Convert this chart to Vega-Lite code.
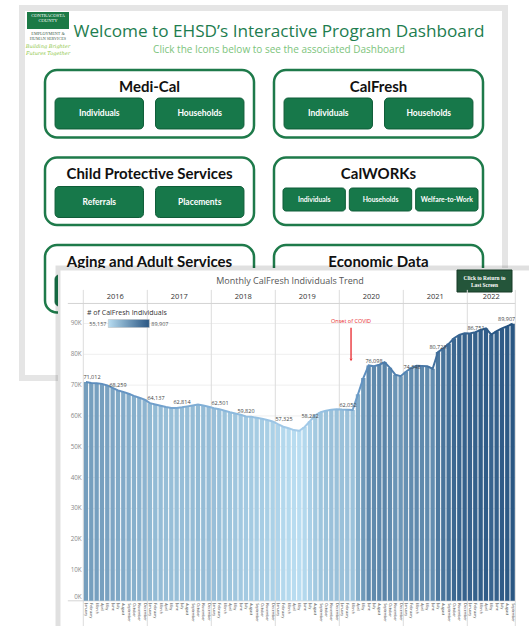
{
  "$schema": "https://vega.github.io/schema/vega-lite/v6.json",
  "width": 529,
  "height": 626,
  "autosize": {"type": "none"},
  "padding": 0,
  "background": "#ffffff",
  "config": {"view": {"stroke": null}, "text": {"font": "Open Sans"}},
  "datasets": {
    "calfresh": [
      {"month": "2016-01", "v": 71012}, {"month": "2016-02", "v": 70700}, {"month": "2016-03", "v": 70600},
      {"month": "2016-04", "v": 70400}, {"month": "2016-05", "v": 69900}, {"month": "2016-06", "v": 69100},
      {"month": "2016-07", "v": 68259}, {"month": "2016-08", "v": 67800}, {"month": "2016-09", "v": 67200},
      {"month": "2016-10", "v": 66500}, {"month": "2016-11", "v": 65900}, {"month": "2016-12", "v": 65300},
      {"month": "2017-01", "v": 64137}, {"month": "2017-02", "v": 63700}, {"month": "2017-03", "v": 63300},
      {"month": "2017-04", "v": 62900}, {"month": "2017-05", "v": 62600}, {"month": "2017-06", "v": 62600},
      {"month": "2017-07", "v": 62814}, {"month": "2017-08", "v": 63100}, {"month": "2017-09", "v": 63400},
      {"month": "2017-10", "v": 63700}, {"month": "2017-11", "v": 63400}, {"month": "2017-12", "v": 63000},
      {"month": "2018-01", "v": 62501}, {"month": "2018-02", "v": 62200}, {"month": "2018-03", "v": 61700},
      {"month": "2018-04", "v": 61200}, {"month": "2018-05", "v": 60800}, {"month": "2018-06", "v": 60400},
      {"month": "2018-07", "v": 59820}, {"month": "2018-08", "v": 59700}, {"month": "2018-09", "v": 59400},
      {"month": "2018-10", "v": 59100}, {"month": "2018-11", "v": 58700}, {"month": "2018-12", "v": 58200},
      {"month": "2019-01", "v": 57325}, {"month": "2019-02", "v": 56500}, {"month": "2019-03", "v": 56000},
      {"month": "2019-04", "v": 55400}, {"month": "2019-05", "v": 55157}, {"month": "2019-06", "v": 56400},
      {"month": "2019-07", "v": 58282}, {"month": "2019-08", "v": 60200}, {"month": "2019-09", "v": 61200},
      {"month": "2019-10", "v": 61700}, {"month": "2019-11", "v": 62000}, {"month": "2019-12", "v": 62200},
      {"month": "2020-01", "v": 62052}, {"month": "2020-02", "v": 62000}, {"month": "2020-03", "v": 61900},
      {"month": "2020-04", "v": 67000}, {"month": "2020-05", "v": 72300}, {"month": "2020-06", "v": 76400},
      {"month": "2020-07", "v": 76098}, {"month": "2020-08", "v": 76600}, {"month": "2020-09", "v": 77400},
      {"month": "2020-10", "v": 75600}, {"month": "2020-11", "v": 73400}, {"month": "2020-12", "v": 72900},
      {"month": "2021-01", "v": 74348}, {"month": "2021-02", "v": 75600}, {"month": "2021-03", "v": 76300},
      {"month": "2021-04", "v": 76200}, {"month": "2021-05", "v": 76100}, {"month": "2021-06", "v": 75300},
      {"month": "2021-07", "v": 80728}, {"month": "2021-08", "v": 81900}, {"month": "2021-09", "v": 83400},
      {"month": "2021-10", "v": 85200}, {"month": "2021-11", "v": 86300}, {"month": "2021-12", "v": 86800},
      {"month": "2022-01", "v": 86751}, {"month": "2022-02", "v": 87200}, {"month": "2022-03", "v": 87900},
      {"month": "2022-04", "v": 88400}, {"month": "2022-05", "v": 86400}, {"month": "2022-06", "v": 87500},
      {"month": "2022-07", "v": 88400}, {"month": "2022-08", "v": 89100}, {"month": "2022-09", "v": 89907}
    ],
    "sections": [
      {"section": "Medi-Cal", "col": "L", "row": "1"},
      {"section": "CalFresh", "col": "R", "row": "1"},
      {"section": "Child Protective Services", "col": "L", "row": "2"},
      {"section": "CalWORKs", "col": "R", "row": "2"},
      {"section": "Aging and Adult Services", "col": "L", "row": "3"},
      {"section": "Economic Data", "col": "R", "row": "3"}
    ],
    "buttons2": [
      {"col": "L", "row": "1", "slot": "1", "label": "Individuals"},
      {"col": "L", "row": "1", "slot": "2", "label": "Households"},
      {"col": "R", "row": "1", "slot": "1", "label": "Individuals"},
      {"col": "R", "row": "1", "slot": "2", "label": "Households"},
      {"col": "L", "row": "2", "slot": "1", "label": "Referrals"},
      {"col": "L", "row": "2", "slot": "2", "label": "Placements"},
      {"col": "L", "row": "3", "slot": "1", "label": ""},
      {"col": "L", "row": "3", "slot": "2", "label": ""}
    ],
    "buttons3": [
      {"box": "CalWORKs", "slot": "1", "label": "Individuals"},
      {"box": "CalWORKs", "slot": "2", "label": "Households"},
      {"box": "CalWORKs", "slot": "3", "label": "Welfare-to-Work"}
    ],
    "years": [
      {"year": "2016", "mid": 6}, {"year": "2017", "mid": 18}, {"year": "2018", "mid": 30},
      {"year": "2019", "mid": 42}, {"year": "2020", "mid": 54}, {"year": "2021", "mid": 66},
      {"year": "2022", "mid": 76.5}
    ],
    "yearEdges": [{"i": 0}, {"i": 12}, {"i": 24}, {"i": 36}, {"i": 48}, {"i": 60}, {"i": 72}, {"i": 81}],
    "grid": [
      {"g": 0, "lab": "0K"}, {"g": 10000, "lab": "10K"}, {"g": 20000, "lab": "20K"}, {"g": 30000, "lab": "30K"},
      {"g": 40000, "lab": "40K"}, {"g": 50000, "lab": "50K"}, {"g": 60000, "lab": "60K"}, {"g": 70000, "lab": "70K"},
      {"g": 80000, "lab": "80K"}, {"g": 90000, "lab": "90K"}
    ],
    "covid": [{"i": 50.2, "label": "Onset of COVID", "ty": 90700, "a1": 88600, "a2": 78600, "tip": 78200}]
  },
  "layer": [
    {
      "data": {"values": [{"panel": "dashboard"}]},
      "mark": {"type": "rect", "fill": "#ffffff", "stroke": "#000000", "strokeWidth": 6, "strokeOpacity": 0.1},
      "encoding": {
        "x": {"field": "panel", "type": "nominal", "axis": null, "scale": {"range": [22, 505], "paddingInner": 0, "paddingOuter": 0}},
        "y": {"field": "panel", "type": "nominal", "axis": null, "scale": {"range": [8, 378], "paddingInner": 0, "paddingOuter": 0}}
      }
    },
    {
      "data": {"values": [{"panel": "logo"}]},
      "mark": {"type": "rect", "fill": "#1b7a46"},
      "encoding": {
        "x": {"field": "panel", "type": "nominal", "axis": null, "scale": {"range": [27, 69], "paddingInner": 0, "paddingOuter": 0}},
        "y": {"field": "panel", "type": "nominal", "axis": null, "scale": {"range": [12, 29], "paddingInner": 0, "paddingOuter": 0}}
      }
    },
    {
      "data": {"values": [{"k": "logo", "line": "1", "t": "CONTRACOSTA"}, {"k": "logo", "line": "2", "t": "COUNTY"}]},
      "mark": {"type": "text", "font": "Liberation Serif", "fontSize": 4.6, "fill": "#ffffff"},
      "encoding": {
        "x": {"field": "k", "type": "nominal", "axis": null, "scale": {"range": [27, 69]}},
        "y": {"field": "line", "type": "ordinal", "axis": null, "scale": {"type": "point", "range": [16, 21], "padding": 0}},
        "text": {"field": "t"}
      }
    },
    {
      "data": {"values": [{"k": "logo", "line": "1", "t": "EMPLOYMENT &"}, {"k": "logo", "line": "2", "t": "HUMAN SERVICES"}]},
      "mark": {"type": "text", "font": "Liberation Serif", "fontSize": 4.2, "fill": "#3d5e4b"},
      "encoding": {
        "x": {"field": "k", "type": "nominal", "axis": null, "scale": {"range": [27, 69]}},
        "y": {"field": "line", "type": "ordinal", "axis": null, "scale": {"type": "point", "range": [34, 38.5], "padding": 0}},
        "text": {"field": "t"}
      }
    },
    {
      "data": {"values": [{"k": "logo", "line": "1", "t": "Building Brighter"}, {"k": "logo", "line": "2", "t": "Futures Together"}]},
      "mark": {"type": "text", "font": "DejaVu Serif", "fontStyle": "italic", "fontSize": 5, "fill": "#8cc63f"},
      "encoding": {
        "x": {"field": "k", "type": "nominal", "axis": null, "scale": {"range": [27, 69]}},
        "y": {"field": "line", "type": "ordinal", "axis": null, "scale": {"type": "point", "range": [46, 53], "padding": 0}},
        "text": {"field": "t"}
      }
    },
    {
      "data": {"values": [{"k": "title", "t": "Welcome to EHSD’s Interactive Program Dashboard"}]},
      "mark": {"type": "text", "font": "Open Sans", "fontSize": 17.2, "fill": "#1e7d4f", "baseline": "middle"},
      "encoding": {
        "x": {"field": "k", "type": "nominal", "axis": null, "scale": {"range": [75, 483]}},
        "y": {"field": "k", "type": "nominal", "axis": null, "scale": {"range": [22, 42]}},
        "text": {"field": "t"}
      }
    },
    {
      "data": {"values": [{"k": "sub", "t": "Click the Icons below to see the associated Dashboard"}]},
      "mark": {"type": "text", "font": "Open Sans", "fontSize": 10, "fill": "#7cc47c", "baseline": "middle"},
      "encoding": {
        "x": {"field": "k", "type": "nominal", "axis": null, "scale": {"range": [75, 483]}},
        "y": {"field": "k", "type": "nominal", "axis": null, "scale": {"range": [44, 56]}},
        "text": {"field": "t"}
      }
    },
    {
      "data": {"name": "sections"},
      "layer": [
        {
          "mark": {"type": "rect", "fill": "#ffffff", "stroke": "#1e7a4a", "strokeWidth": 2.5, "cornerRadius": 12},
          "encoding": {
            "x": {"field": "col", "type": "nominal", "axis": null, "scale": {"range": [45, 483], "paddingInner": 0.0873, "paddingOuter": 0}},
            "y": {"field": "row", "type": "nominal", "axis": null, "scale": {"range": [70, 312.5], "paddingInner": 0.229, "paddingOuter": 0}}
          }
        },
        {
          "mark": {"type": "text", "font": "Lato", "fontWeight": "bold", "fontSize": 15, "fill": "#111111", "baseline": "middle"},
          "encoding": {
            "x": {"field": "col", "type": "nominal", "axis": null},
            "y": {"field": "row", "type": "nominal", "axis": null, "bandPosition": 0.25},
            "text": {"field": "section"}
          }
        }
      ]
    },
    {
      "data": {"name": "buttons2"},
      "layer": [
        {
          "mark": {"type": "rect", "fill": "#17784a", "stroke": "#0f5d38", "strokeWidth": 1, "cornerRadius": 4},
          "encoding": {
            "x": {"field": "col", "type": "nominal", "axis": null, "scale": {"range": [45, 483], "paddingInner": 0.0873, "paddingOuter": 0}},
            "xOffset": {"field": "slot", "type": "nominal", "scale": {"paddingInner": 0.12, "paddingOuter": 0.1}},
            "y": {"field": "row", "type": "nominal", "axis": null, "scale": {"range": [98, 306], "paddingInner": 0.65, "paddingOuter": 0}}
          }
        },
        {
          "mark": {"type": "text", "font": "Lato", "fontWeight": "bold", "fontSize": 8.5, "fill": "#ffffff", "baseline": "middle"},
          "encoding": {
            "x": {"field": "col", "type": "nominal", "axis": null},
            "xOffset": {"field": "slot", "type": "nominal"},
            "y": {"field": "row", "type": "nominal", "axis": null},
            "text": {"field": "label"}
          }
        }
      ]
    },
    {
      "data": {"name": "buttons3"},
      "layer": [
        {
          "mark": {"type": "rect", "fill": "#17784a", "stroke": "#0f5d38", "strokeWidth": 1, "cornerRadius": 3},
          "encoding": {
            "x": {"field": "slot", "type": "nominal", "axis": null, "scale": {"range": [283, 478], "paddingInner": 0.06, "paddingOuter": 0}},
            "y": {"field": "box", "type": "nominal", "axis": null, "scale": {"range": [188, 211], "paddingInner": 0, "paddingOuter": 0}}
          }
        },
        {
          "mark": {"type": "text", "font": "Lato", "fontWeight": "bold", "fontSize": 6.8, "fill": "#ffffff", "baseline": "middle"},
          "encoding": {
            "x": {"field": "slot", "type": "nominal", "axis": null},
            "y": {"field": "box", "type": "nominal", "axis": null},
            "text": {"field": "label"}
          }
        }
      ]
    },
    {
      "data": {"values": [{"panel": "chart"}]},
      "mark": {"type": "rect", "fill": "#ffffff", "stroke": "#000000", "strokeWidth": 5, "strokeOpacity": 0.12},
      "encoding": {
        "x": {"field": "panel", "type": "nominal", "axis": null, "scale": {"range": [58, 580], "paddingInner": 0, "paddingOuter": 0}},
        "y": {"field": "panel", "type": "nominal", "axis": null, "scale": {"range": [268, 700], "paddingInner": 0, "paddingOuter": 0}}
      }
    },
    {
      "data": {"values": [{"k": "ct", "t": "Monthly CalFresh Individuals Trend"}]},
      "mark": {"type": "text", "font": "Open Sans", "fontSize": 9, "fill": "#555555", "baseline": "middle"},
      "encoding": {
        "x": {"field": "k", "type": "nominal", "axis": null, "scale": {"range": [58, 522]}},
        "y": {"field": "k", "type": "nominal", "axis": null, "scale": {"range": [275, 287]}},
        "text": {"field": "t"}
      }
    },
    {
      "data": {"values": [{"panel": "return"}]},
      "mark": {"type": "rect", "fill": "#24553a", "stroke": "#173b27", "strokeWidth": 1},
      "encoding": {
        "x": {"field": "panel", "type": "nominal", "axis": null, "scale": {"range": [457, 512], "paddingInner": 0, "paddingOuter": 0}},
        "y": {"field": "panel", "type": "nominal", "axis": null, "scale": {"range": [270, 292], "paddingInner": 0, "paddingOuter": 0}}
      }
    },
    {
      "data": {"values": [{"k": "r", "line": "1", "t": "Click to Return to"}, {"k": "r", "line": "2", "t": "Last Screen"}]},
      "mark": {"type": "text", "font": "Liberation Serif", "fontWeight": "bold", "fontSize": 5.4, "fill": "#ffffff", "baseline": "middle"},
      "encoding": {
        "x": {"field": "k", "type": "nominal", "axis": null, "scale": {"range": [457, 512]}},
        "y": {"field": "line", "type": "ordinal", "axis": null, "scale": {"type": "point", "range": [277.5, 285], "padding": 0}},
        "text": {"field": "t"}
      }
    },
    {
      "layer": [
        {
          "layer": [
            {
              "data": {"name": "grid"},
              "transform": [{"filter": "datum.g > 0"}],
              "mark": {"type": "rule", "stroke": "#efefef", "strokeWidth": 1},
              "encoding": {
                "x": {"datum": 0, "type": "quantitative", "axis": null, "scale": {"domain": [0, 81], "range": [83.3, 515.3], "nice": false, "zero": false}},
                "x2": {"datum": 81},
                "y": {"field": "g", "type": "quantitative", "axis": null, "scale": {"domain": [0, 96000], "range": [600.8, 305], "nice": false, "zero": false}}
              }
            },
            {
              "data": {"name": "grid"},
              "transform": [{"filter": "datum.g > 0"}],
              "mark": {"type": "text", "font": "Open Sans", "fontSize": 6.3, "fill": "#8a8a8a", "align": "right", "baseline": "middle"},
              "encoding": {
                "x": {"datum": -0.3, "type": "quantitative", "axis": null, "scale": {"domain": [0, 81], "range": [83.3, 515.3], "nice": false, "zero": false}},
                "y": {"field": "g", "type": "quantitative", "axis": null, "scale": {"domain": [0, 96000], "range": [600.8, 305], "nice": false, "zero": false}},
                "text": {"field": "lab"}
              }
            },
            {
              "data": {"name": "grid"},
              "transform": [{"filter": "datum.g == 0"}],
              "mark": {"type": "text", "font": "Open Sans", "fontSize": 6.3, "fill": "#8a8a8a", "align": "right", "baseline": "bottom", "dy": -1},
              "encoding": {
                "x": {"datum": -0.3, "type": "quantitative", "axis": null, "scale": {"domain": [0, 81], "range": [83.3, 515.3], "nice": false, "zero": false}},
                "y": {"field": "g", "type": "quantitative", "axis": null, "scale": {"domain": [0, 96000], "range": [600.8, 305], "nice": false, "zero": false}},
                "text": {"field": "lab"}
              }
            },
            {
              "data": {"name": "yearEdges"},
              "mark": {"type": "rule", "stroke": "#dcdcdc", "strokeWidth": 1},
              "encoding": {
                "x": {"field": "i", "type": "quantitative", "axis": null, "scale": {"domain": [0, 81], "range": [83.3, 515.3], "nice": false, "zero": false}},
                "y": {"datum": 100900, "type": "quantitative", "axis": null, "scale": {"domain": [0, 96000], "range": [600.8, 305], "nice": false, "zero": false}},
                "y2": {"datum": -10000}
              }
            },
            {
              "data": {"values": [{"h": 96500}, {"h": 0}]},
              "mark": {"type": "rule", "stroke": "#d4d4d4", "strokeWidth": 1},
              "encoding": {
                "x": {"datum": -2.9, "type": "quantitative", "axis": null, "scale": {"domain": [0, 81], "range": [83.3, 515.3], "nice": false, "zero": false}},
                "x2": {"datum": 81},
                "y": {"field": "h", "type": "quantitative", "axis": null, "scale": {"domain": [0, 96000], "range": [600.8, 305], "nice": false, "zero": false}}
              }
            },
            {
              "data": {"name": "years"},
              "mark": {"type": "text", "font": "Open Sans", "fontSize": 7.5, "fill": "#333333", "baseline": "middle"},
              "encoding": {
                "x": {"field": "mid", "type": "quantitative", "axis": null, "scale": {"domain": [0, 81], "range": [83.3, 515.3], "nice": false, "zero": false}},
                "y": {"datum": 98500, "type": "quantitative", "axis": null, "scale": {"domain": [0, 96000], "range": [600.8, 305], "nice": false, "zero": false}},
                "text": {"field": "year"}
              }
            },
            {
              "data": {"name": "covid"},
              "mark": {"type": "text", "font": "Open Sans", "fontSize": 5.5, "fill": "#e8262b", "baseline": "middle"},
              "encoding": {
                "x": {"field": "i", "type": "quantitative", "axis": null, "scale": {"domain": [0, 81], "range": [83.3, 515.3], "nice": false, "zero": false}},
                "y": {"field": "ty", "type": "quantitative", "axis": null, "scale": {"domain": [0, 96000], "range": [600.8, 305], "nice": false, "zero": false}},
                "text": {"field": "label"}
              }
            },
            {
              "data": {"name": "covid"},
              "mark": {"type": "rule", "stroke": "#e8262b", "strokeWidth": 1.3},
              "encoding": {
                "x": {"field": "i", "type": "quantitative", "axis": null, "scale": {"domain": [0, 81], "range": [83.3, 515.3], "nice": false, "zero": false}},
                "y": {"field": "a1", "type": "quantitative", "axis": null, "scale": {"domain": [0, 96000], "range": [600.8, 305], "nice": false, "zero": false}},
                "y2": {"field": "a2"}
              }
            },
            {
              "data": {"name": "covid"},
              "mark": {"type": "point", "shape": "triangle-down", "filled": true, "fill": "#e8262b", "size": 9, "opacity": 1},
              "encoding": {
                "x": {"field": "i", "type": "quantitative", "axis": null, "scale": {"domain": [0, 81], "range": [83.3, 515.3], "nice": false, "zero": false}},
                "y": {"field": "tip", "type": "quantitative", "axis": null, "scale": {"domain": [0, 96000], "range": [600.8, 305], "nice": false, "zero": false}}
              }
            }
          ]
        },
        {
          "data": {"name": "calfresh"},
          "layer": [
            {
              "mark": {"type": "bar"},
              "encoding": {
                "x": {
                  "field": "month", "type": "ordinal",
                  "scale": {"range": [83.3, 515.3], "paddingInner": 0.19, "paddingOuter": 0.095},
                  "axis": {
                    "orient": "bottom", "offset": -25.2, "title": null, "domain": false, "ticks": false, "zindex": 2,
                    "labelAngle": 90, "labelFontSize": 3.6, "labelColor": "#444444", "labelPadding": 2,
                    "labelOverlap": false, "labelBound": false, "labelFlush": false, "labelFont": "Open Sans",
                    "labelExpr": "['January','February','March','April','May','June','July','August','September','October','November','December'][toNumber(slice(datum.value,5,7))-1]"
                  }
                },
                "y": {
                  "field": "v", "type": "quantitative",
                  "scale": {"domain": [0, 96000], "range": [600.8, 305], "nice": false, "zero": false},
                  "axis": null
                },
                "color": {
                  "field": "v", "type": "quantitative",
                  "scale": {"domain": [55157, 89907], "range": ["#b9ddf1", "#2a5783"]},
                  "legend": {
                    "orient": "none", "legendX": 87, "legendY": 308.5, "direction": "horizontal",
                    "title": "# of CalFresh Individuals", "titleFont": "Open Sans", "titleFontSize": 7,
                    "titleFontWeight": "normal", "titleColor": "#333333", "titlePadding": 4,
                    "gradientLength": 41, "gradientThickness": 8, "gradientStrokeWidth": 0.5, "gradientStrokeColor": "#bbbbbb",
                    "values": [55157, 89907], "labelExpr": "format(datum.value, ',')",
                    "labelFont": "Open Sans", "labelFontSize": 5.5, "labelColor": "#555555",
                    "labelOverlap": false,
                    "encode": {
                      "gradient": {"update": {"x": {"value": 21.3}}},
                      "labels": {"update": {
                        "x": {"signal": "datum.perc <= 0 ? 19.5 : 64.3"},
                        "align": {"signal": "datum.perc <= 0 ? 'right' : 'left'"},
                        "y": {"value": 4},
                        "baseline": {"value": "middle"}
                      }}
                    }
                  }
                }
              }
            },
            {
              "mark": {
                "type": "line", "strokeWidth": 2,
                "stroke": {
                  "x1": 0, "y1": 0, "x2": 1, "y2": 0, "gradient": "linear",
                  "stops": [
                    {"offset": 0, "color": "#5a8bbb"},
                    {"offset": 0.075, "color": "#6392c1"},
                    {"offset": 0.3, "color": "#85b3d9"},
                    {"offset": 0.5, "color": "#a6cdea"},
                    {"offset": 0.6, "color": "#88b6db"},
                    {"offset": 0.65, "color": "#5f90c0"},
                    {"offset": 0.7, "color": "#4a7aaa"},
                    {"offset": 0.75, "color": "#5485b5"},
                    {"offset": 0.825, "color": "#3f6d9b"},
                    {"offset": 1, "color": "#22507e"}
                  ]
                }
              },
              "encoding": {
                "x": {"field": "month", "type": "ordinal"},
                "y": {"field": "v", "type": "quantitative", "axis": null}
              }
            },
            {
              "transform": [{"filter": "slice(datum.month,5,7) == '01'"}],
              "mark": {"type": "text", "font": "Open Sans", "fontSize": 5.5, "fill": "#444444", "baseline": "bottom", "dy": -2, "dx": 6},
              "encoding": {
                "x": {"field": "month", "type": "ordinal"},
                "y": {"field": "v", "type": "quantitative", "axis": null},
                "text": {"field": "v", "type": "quantitative", "format": ","}
              }
            },
            {
              "transform": [{"filter": "slice(datum.month,5,7) == '07' && datum.month != '2022-07'"}],
              "mark": {"type": "text", "font": "Open Sans", "fontSize": 5.5, "fill": "#444444", "baseline": "bottom", "dy": -2},
              "encoding": {
                "x": {"field": "month", "type": "ordinal"},
                "y": {"field": "v", "type": "quantitative", "axis": null},
                "text": {"field": "v", "type": "quantitative", "format": ","}
              }
            },
            {
              "transform": [{"filter": "datum.month == '2022-09'"}],
              "mark": {"type": "text", "font": "Open Sans", "fontSize": 5.5, "fill": "#444444", "baseline": "bottom", "dy": -2, "dx": -6},
              "encoding": {
                "x": {"field": "month", "type": "ordinal"},
                "y": {"field": "v", "type": "quantitative", "axis": null},
                "text": {"field": "v", "type": "quantitative", "format": ","}
              }
            }
          ]
        }
      ],
      "resolve": {"scale": {"x": "independent"}}
    }
  ],
  "resolve": {"scale": {"x": "independent", "y": "independent", "xOffset": "independent", "color": "independent"}}
}
